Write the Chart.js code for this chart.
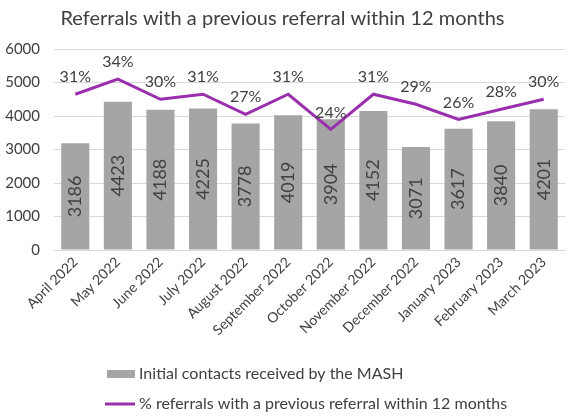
<!DOCTYPE html>
<html>
<head>
<meta charset="utf-8">
<script src="https://cdn.jsdelivr.net/npm/chart.js@4/dist/chart.umd.min.js"></script>
<style>
  html, body { margin: 0; padding: 0; background: #fff; }
  #wrap { width: 568px; height: 418px; }
</style>
</head>
<body>
<div id="wrap"><canvas id="chart" width="568" height="418"></canvas></div>
<script>
var months = ['April 2022', 'May 2022', 'June 2022', 'July 2022', 'August 2022', 'September 2022',
  'October 2022', 'November 2022', 'December 2022', 'January 2023', 'February 2023', 'March 2023'];
var contacts = [3186, 4423, 4188, 4225, 3778, 4019, 3904, 4152, 3071, 3617, 3840, 4201];
var repeatPct = [31, 34, 30, 31, 27, 31, 24, 31, 29, 26, 28, 30];
var yTicks = [0, 1000, 2000, 3000, 4000, 5000, 6000];

var FONT = 'Lato';
var TEXT = '#404040';

// value labels + legend, drawn by hand
var labelPlugin = {
  id: 'labels',
  afterDatasetsDraw: function(chart) {
    var ctx = chart.ctx;
    var bars = chart.getDatasetMeta(0).data;
    var pts = chart.getDatasetMeta(1).data;
    ctx.save();
    ctx.fillStyle = TEXT;
    ctx.font = '18px ' + FONT;
    ctx.textAlign = 'center';
    ctx.textBaseline = 'middle';
    bars.forEach(function(b, i) {
      var mid = (b.y + b.base) / 2;
      ctx.save();
      ctx.translate(b.x, mid);
      ctx.rotate(-Math.PI / 2);
      ctx.fillText(String(contacts[i]), 0, 0);
      ctx.restore();
    });
    ctx.font = '16px ' + FONT;
    ctx.textBaseline = 'bottom';
    pts.forEach(function(p, i) {
      ctx.fillText(repeatPct[i] + '%', p.x, p.y - 9);
    });

    // legend
    var lx = 107;
    ctx.textAlign = 'left';
    ctx.textBaseline = 'middle';
    ctx.font = '16px ' + FONT;
    ctx.fillStyle = '#a5a5a5';
    ctx.fillRect(lx, 370, 28, 8);
    ctx.fillStyle = TEXT;
    ctx.fillText(chart.data.datasets[0].label, lx + 32, 374);
    ctx.strokeStyle = '#9a2fae';
    ctx.lineWidth = 3;
    ctx.beginPath();
    ctx.moveTo(lx - 2, 404);
    ctx.lineTo(lx + 28, 404);
    ctx.stroke();
    ctx.fillText(chart.data.datasets[1].label, lx + 32, 404);
    ctx.restore();
  }
};

new Chart(document.getElementById('chart'), {
  type: 'bar',
  data: {
    labels: months,
    datasets: [
      {
        type: 'bar',
        label: 'Initial contacts received by the MASH',
        data: contacts,
        backgroundColor: '#a5a5a5',
        categoryPercentage: 1,
        barPercentage: 0.66,
        yAxisID: 'y',
        order: 2
      },
      {
        type: 'line',
        label: '% referrals with a previous referral within 12 months',
        data: repeatPct,
        borderColor: '#9a2fae',
        borderWidth: 3,
        pointRadius: 0,
        tension: 0,
        yAxisID: 'y2',
        order: 1
      }
    ]
  },
  options: {
    responsive: false,
    animation: false,
    layout: { padding: { left: 0, right: 3, top: 0, bottom: 68 } },
    plugins: {
      legend: { display: false },
      tooltip: { enabled: false },
      title: {
        display: true,
        text: 'Referrals with a previous referral within 12 months',
        color: TEXT,
        font: { family: FONT, size: 20, weight: 'normal' },
        padding: { top: 7, bottom: 18 }
      }
    },
    scales: {
      x: {
        grid: { display: false, drawTicks: false },
        border: { color: '#d9d9d9' },
        ticks: {
          color: TEXT,
          font: { family: FONT, size: 14 },
          minRotation: 45,
          maxRotation: 45,
          padding: 4
        },
        afterFit: function(s) { s.height = 100; }
      },
      y: {
        min: 0,
        max: 6000,
        afterBuildTicks: function(s) { s.ticks = yTicks.map(function(v) { return { value: v }; }); },
        grid: { color: '#d9d9d9', drawTicks: false },
        border: { display: false },
        ticks: {
          color: TEXT,
          font: { family: FONT, size: 15 },
          padding: 14,
          callback: function(v) { return String(v); }
        },
        afterFit: function(s) { s.width = 54; }
      },
      y2: {
        display: false,
        min: 0,
        max: 40
      }
    }
  },
  plugins: [labelPlugin]
});
</script>
</body>
</html>
